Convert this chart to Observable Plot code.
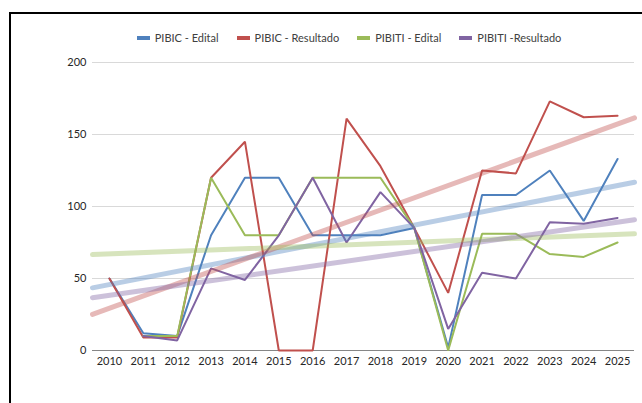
<!DOCTYPE html>
<html>
<head>
<meta charset="utf-8">
<script src="https://cdn.jsdelivr.net/npm/d3@7"></script>
<script src="https://cdn.jsdelivr.net/npm/@observablehq/plot@0.6"></script>
<style>
  html, body { margin: 0; padding: 0; background: #fff; }
  #wrap { position: relative; width: 642px; height: 403px; overflow: hidden; font-family: Lato, "Open Sans", sans-serif; }
  #frame { position: absolute; left: 9px; top: 12px; width: 700px; height: 500px; border-left: 2px solid #000; border-top: 2px solid #000; box-sizing: border-box; }
  #legend { position: absolute; left: 0; width: 642px; top: 31px; display: flex; justify-content: center; padding-left: 56px; box-sizing: border-box; gap: 18px; font-size: 11px; color: #404040; }
  .item { display: flex; align-items: center; gap: 5px; white-space: nowrap; }
  .sw { width: 13px; height: 4px; display: inline-block; }
  #chart { position: absolute; left: 0; top: 0; }
</style>
</head>
<body>
<div id="wrap">
  <div id="chart"></div>
  <div id="frame"></div>
  <div id="legend"></div>
</div>
<script>
const years = [2010,2011,2012,2013,2014,2015,2016,2017,2018,2019,2020,2021,2022,2023,2024,2025];
const seriesNames = ["PIBIC - Edital", "PIBIC - Resultado", "PIBITI - Edital", "PIBITI -Resultado"];
const seriesColors = ["#4F81BD", "#C0504D", "#9BBB59", "#8064A2"];
const pibicEdital     = [50, 12, 10, 80, 120, 120, 80, 80, 80, 85, 2, 108, 108, 125, 90, 133];
const pibicResultado  = [50, 9, 9, 120, 145, 0, 0, 161, 128, 85, 40, 125, 123, 173, 162, 163];
const pibitiEdital    = [null, 10, 10, 120, 80, 80, 120, 120, 120, 85, 0, 81, 81, 67, 65, 75];
const pibitiResultado = [null, 10, 7, 57, 49, 80, 120, 75, 110, 85, 15, 54, 50, 89, 88, 92];
const yTicks = [0, 50, 100, 150, 200];

const allSeries = [pibicEdital, pibicResultado, pibitiEdital, pibitiResultado];

// long-format table
const rows = [];
allSeries.forEach((vals, s) => {
  vals.forEach((v, i) => rows.push({ year: years[i], value: v, series: seriesNames[s] }));
});

// linear trend (least squares) for each series, spanning the full category axis
const x0 = years[0] - 0.5, x1 = years[years.length - 1] + 0.5;
const trends = [];
allSeries.forEach((vals, s) => {
  const pts = vals.map((v, i) => [years[i], v]).filter(d => d[1] != null);
  const mx = d3.mean(pts, d => d[0]), my = d3.mean(pts, d => d[1]);
  const sxy = d3.sum(pts, d => (d[0] - mx) * (d[1] - my));
  const sxx = d3.sum(pts, d => (d[0] - mx) ** 2);
  const b = sxy / sxx, a = my - b * mx;
  trends.push({ year: x0, value: a + b * x0, series: seriesNames[s] });
  trends.push({ year: x1, value: a + b * x1, series: seriesNames[s] });
});

const chart = Plot.plot({
  width: 642,
  height: 403,
  marginLeft: 92,
  marginRight: 8,
  marginTop: 62,
  marginBottom: 53,
  style: { fontFamily: "Lato, 'Open Sans', sans-serif", fontSize: "11px", color: "#404040", background: "transparent" },
  x: { type: "linear", domain: [x0, x1], ticks: years, tickFormat: d => String(d), tickSize: 0, tickPadding: 7, label: null },
  y: { domain: [0, 200], ticks: yTicks, tickSize: 0, tickPadding: 6, label: null },
  color: { domain: seriesNames, range: seriesColors },
  marks: [
    Plot.ruleY(yTicks.filter(t => t > 0), { stroke: "#d9d9d9", strokeWidth: 1 }),
    Plot.ruleY([0], { stroke: "#868686", strokeWidth: 1 }),
    Plot.axisX({ ticks: years, tickFormat: d => String(d), tickSize: 0, tickPadding: 7, fill: "#262626" }),
    Plot.axisY({ ticks: yTicks, tickSize: 0, tickPadding: 6, fill: "#262626" }),
    Plot.line(rows, { x: "year", y: "value", z: "series", stroke: "series", strokeWidth: 2, strokeLinejoin: "miter" }),
    Plot.line(trends, { x: "year", y: "value", z: "series", stroke: "series", strokeWidth: 5, strokeOpacity: 0.4 })
  ]
});
document.getElementById("chart").appendChild(chart);

const legend = document.getElementById("legend");
seriesNames.forEach((n, i) => {
  const it = document.createElement("div");
  it.className = "item";
  const sw = document.createElement("span");
  sw.className = "sw";
  sw.style.background = seriesColors[i];
  const t = document.createElement("span");
  t.textContent = n;
  it.appendChild(sw);
  it.appendChild(t);
  legend.appendChild(it);
});
</script>
</body>
</html>
